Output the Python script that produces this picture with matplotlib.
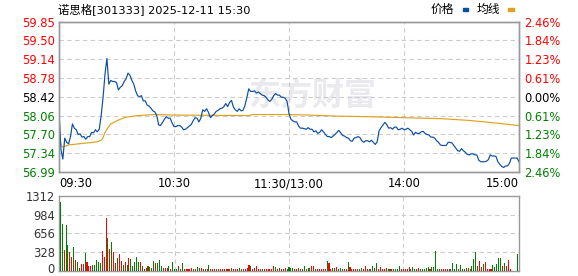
import numpy as np
import matplotlib.pyplot as plt
from matplotlib.patches import Rectangle
from matplotlib.transforms import ScaledTranslation

plt.rcParams['font.family'] = ['DejaVu Sans', 'Noto Sans CJK SC']

title = '诺思格[301333] 2025-12-11 15:30'
prev_close = 58.42

# one price per minute, 09:30 .. 11:30 then 13:01 .. 15:00
price = [
    58.15, 57.42, 57.23, 57.63, 57.55, 57.52, 57.66, 57.90, 57.82, 57.79,
    57.70, 57.71, 57.65, 57.66, 57.61, 57.66, 57.66, 57.74, 57.73, 57.79,
    57.75, 57.80, 58.06, 58.41, 58.85, 59.15, 58.66, 58.73, 58.71, 58.71,
    58.69, 58.55, 58.60, 58.63, 58.71, 58.76, 58.87, 58.83, 58.73, 58.66,
    58.53, 58.44, 58.42, 58.44, 58.34, 58.34, 58.26, 58.24, 58.20, 58.15,
    58.13, 58.06, 57.88, 57.87, 57.93, 57.99, 58.04, 58.01, 58.01, 57.92,
    57.85, 57.85, 57.87, 57.87, 57.84, 57.79, 57.80, 57.83, 57.86, 57.89,
    57.96, 58.02, 58.01, 57.94, 58.01, 58.17, 58.14, 58.19, 58.12, 58.02,
    58.06, 58.09, 58.14, 58.16, 58.19, 58.20, 58.23, 58.29, 58.23, 58.31,
    58.35, 58.22, 58.17, 58.14, 58.19, 58.15, 58.16, 58.25, 58.40, 58.57,
    58.52, 58.52, 58.53, 58.49, 58.51, 58.48, 58.45, 58.44, 58.41, 58.36,
    58.33, 58.37, 58.44, 58.48, 58.45, 58.45, 58.41, 58.41, 58.39, 58.33, 58.10,
    57.99, 57.96, 57.94, 57.94, 57.86, 57.82, 57.82, 57.81, 57.80, 57.83,
    57.80, 57.80, 57.75, 57.77, 57.72, 57.74, 57.79, 57.75, 57.70, 57.66,
    57.66, 57.64, 57.67, 57.70, 57.74, 57.78, 57.73, 57.68, 57.67, 57.64,
    57.63, 57.58, 57.57, 57.63, 57.64, 57.66, 57.64, 57.58, 57.55, 57.58,
    57.58, 57.56, 57.59, 57.55, 57.51, 57.56, 57.77, 57.83, 57.88, 57.93,
    57.89, 57.82, 57.83, 57.80, 57.84, 57.84, 57.79, 57.80, 57.82, 57.79,
    57.80, 57.82, 57.79, 57.76, 57.69, 57.74, 57.72, 57.72, 57.75, 57.76,
    57.72, 57.70, 57.69, 57.65, 57.65, 57.63, 57.58, 57.55, 57.50, 57.49,
    57.49, 57.49, 57.55, 57.55, 57.54, 57.49, 57.44, 57.39, 57.38, 57.43,
    57.39, 57.36, 57.32, 57.31, 57.33, 57.33, 57.31, 57.31, 57.21, 57.18,
    57.18, 57.18, 57.19, 57.22, 57.31, 57.29, 57.29, 57.28, 57.18, 57.13,
    57.09, 57.07, 57.10, 57.10, 57.15, 57.25, 57.25, 57.25, 57.25, 57.18,
]

# average line, read at a few minutes
avg_min = [0, 1, 2, 5, 10, 15, 20, 22, 23, 24, 25, 27, 29, 32, 35, 41, 50, 60,
           99, 101, 120, 130, 145, 160, 180, 190, 200, 213, 222, 230, 235, 240]
avg_val = [57.87, 57.49, 57.46, 57.50, 57.52, 57.54, 57.56, 57.59, 57.64, 57.74,
           57.80, 57.90, 57.94, 57.99, 58.03, 58.06, 58.08, 58.07,
           58.06, 58.08, 58.08, 58.07, 58.05, 58.04, 58.02, 58.01, 58.00, 57.97,
           57.94, 57.91, 57.89, 57.87]

volume = [
    1200, 814, 363, 802, 451, 334, 246, 416, 187, 146,
    53, 117, 111, 304, 146, 82, 88, 100, 100, 187,
    146, 129, 345, 246, 931, 580, 380, 498, 334, 129,
    228, 293, 170, 100, 146, 100, 217, 205, 88, 146,
    246, 146, 146, 88, 30, 53, 76, 70, 53, 170,
    129, 129, 187, 82, 41, 41, 41, 82, 29, 158,
    29, 29, 76, 29, 129, 25, 25, 25, 25, 41,
    25, 25, 58, 41, 41, 25, 25, 25, 94, 25,
    25, 25, 25, 25, 25, 25, 25, 25, 25, 25,
    41, 25, 25, 25, 41, 25, 25, 25, 41, 94,
    76, 25, 41, 76, 25, 25, 25, 25, 25, 25,
    25, 25, 76, 58, 25, 41, 25, 25, 41, 25, 64,
    53, 53, 29, 29, 41, 29, 29, 82, 29, 41,
    53, 82, 82, 29, 29, 29, 29, 29, 29, 170,
    135, 29, 41, 53, 64, 29, 41, 29, 29, 29,
    146, 64, 29, 29, 29, 29, 29, 41, 29, 82,
    29, 29, 29, 82, 41, 135, 29, 64, 29, 29,
    41, 29, 29, 29, 29, 29, 29, 82, 29, 29,
    29, 29, 64, 29, 64, 29, 29, 41, 29, 29,
    29, 41, 64, 29, 64, 64, 345, 29, 29, 29,
    29, 29, 29, 29, 29, 135, 29, 111, 29, 100,
    29, 29, 53, 53, 29, 82, 205, 322, 82, 170,
    64, 111, 152, 29, 29, 29, 100, 70, 111, 217,
    217, 82, 129, 82, 181, 29, 0, 0, 0, 287,
]
vol_dir = ('GGRGGRRGRG' 'GRRGRRRGGG' 'GGRRRGRGRR' 'GRRGRGRGGG' 'GGRGRRGRGG'
           'RGGGGRRGRG' 'GGRGGRRRRR' 'GRGGRRGRGR' 'RRGRRRRGRR' 'GRRRGRGRRR'
           'GRRRRRGRRR' 'RRRGRGRRRGG'
           'GGRRGRGGRG' 'GRRGRRRRRG' 'RRGRRGGRGR' 'GRRRRRGGRR' 'RRGGRGRRRR'
           'RGGRRGGGRR' 'RRRGGGRRGG' 'GGGRGGGGGR' 'RRRRGGGGRG' 'GGRGRGGGGR'
           'RGRRRRGGGG' 'GRGRRRRRRG')

time_ticks = [0, 60, 120, 180, 240]
time_labels = ['09:30', '10:30', '11:30/13:00', '14:00', '15:00']
price_ticks = [56.99, 57.34, 57.70, 58.06, 58.42, 58.78, 59.14, 59.50, 59.85]
pct_labels = ['2.46%', '1.84%', '1.23%', '0.61%', '0.00%',
              '0.61%', '1.23%', '1.84%', '2.46%']
vol_ticks = [0, 328, 656, 984, 1312]

RED = '#ff0000'
GREEN = '#008000'
SPINE = '#999999'

minutes = np.arange(len(price))

fig = plt.figure(figsize=(5.78, 2.76), dpi=100)
ax = fig.add_axes([59 / 578, 1 - 171.7 / 276, 460 / 578, 150 / 276])
axv = fig.add_axes([59 / 578, 1 - 270.7 / 276, 460 / 578, 74.7 / 276])

# watermark
ax.text(0.55, 0.5, '东方财富', transform=ax.transAxes, fontsize=23,
        family=['Noto Sans CJK SC'], fontweight='bold', color='#eaeaee',
        ha='center', va='center', zorder=0)

ax.plot(minutes, price, color='#0b4ea2', lw=0.85, zorder=3)
ax.plot(avg_min, avg_val, color='#e0a020', lw=0.85, zorder=2)

ax.set_xlim(0, 240)
ax.set_ylim(price_ticks[0], price_ticks[-1])
ax.set_yticks(price_ticks)
ax.set_yticklabels(['%.2f' % p for p in price_ticks])
ax.set_xticks(time_ticks)
ax.set_xticklabels(time_labels)
ax.tick_params(length=0, labelsize=8.3, pad=3)
ax.tick_params(axis='x', pad=4)
xl = ax.get_xticklabels()
xl[0].set_ha('left')
xl[-1].set_ha('right')
for t, p in zip(ax.get_yticklabels(), price_ticks):
    if p > prev_close:
        t.set_color(RED)
    elif p < prev_close:
        t.set_color(GREEN)
    else:
        t.set_color('black')

for y in price_ticks[1:-1]:
    ax.axhline(y, color='#cccccc', lw=0.8, ls=(0, (4, 3)), zorder=1)
for x in time_ticks[1:-1]:
    ax.axvline(x, color='#cccccc', lw=0.8, ls=(0, (4, 3)), zorder=1)

ax2 = ax.twinx()
ax2.set_ylim(ax.get_ylim())
ax2.set_yticks(price_ticks)
ax2.set_yticklabels(pct_labels[::-1])
ax2.tick_params(length=0, labelsize=8.3, pad=4)
for t, p in zip(ax2.get_yticklabels(), price_ticks):
    if p > prev_close:
        t.set_color(RED)
    elif p < prev_close:
        t.set_color(GREEN)
    else:
        t.set_color('black')

for a in (ax, ax2, axv):
    for s in a.spines.values():
        s.set_color(SPINE)
        s.set_linewidth(1.0)

# volume
bar_colors = [RED if c == 'R' else GREEN for c in vol_dir]
axv.bar(minutes, volume, width=0.55, color=bar_colors, zorder=3)
axv.set_xlim(-0.7, 240.7)
axv.set_ylim(0, vol_ticks[-1])
axv.set_yticks(vol_ticks)
axv.set_xticks([])
axv.tick_params(length=0, labelsize=8.3, pad=3, labelcolor='#333333')
# keep the bottom "0" inside the picture
zero_lbl = axv.get_yticklabels()[0]
zero_lbl.set_transform(zero_lbl.get_transform()
                       + ScaledTranslation(0, 2 / 72, fig.dpi_scale_trans))
for y in vol_ticks[1:-1]:
    axv.axhline(y, color='#cccccc', lw=0.8, ls=(0, (4, 3)), zorder=1)
for x in time_ticks[1:-1]:
    axv.axvline(x, color='#cccccc', lw=0.8, ls=(0, (4, 3)), zorder=1)

# title and legend
fig.text(58 / 578, 1 - 9 / 276, title, fontsize=8.2, va='center', ha='left',
         family=['DejaVu Sans', 'Noto Sans CJK SC'])
fig.text(454 / 578, 1 - 9 / 276, '价格', fontsize=8.5, va='center', ha='right',
         family=['Noto Sans CJK SC'])
fig.text(500 / 578, 1 - 9 / 276, '均线', fontsize=8.5, va='center', ha='right',
         family=['Noto Sans CJK SC'])
fig.add_artist(Rectangle((463 / 578, 1 - 11 / 276), 5 / 578, 3 / 276,
                         transform=fig.transFigure, color='#0b4ea2'))
fig.add_artist(Rectangle((508 / 578, 1 - 11 / 276), 6 / 578, 3 / 276,
                         transform=fig.transFigure, color='#e0a020'))

fig.savefig('out.png', dpi=100)
